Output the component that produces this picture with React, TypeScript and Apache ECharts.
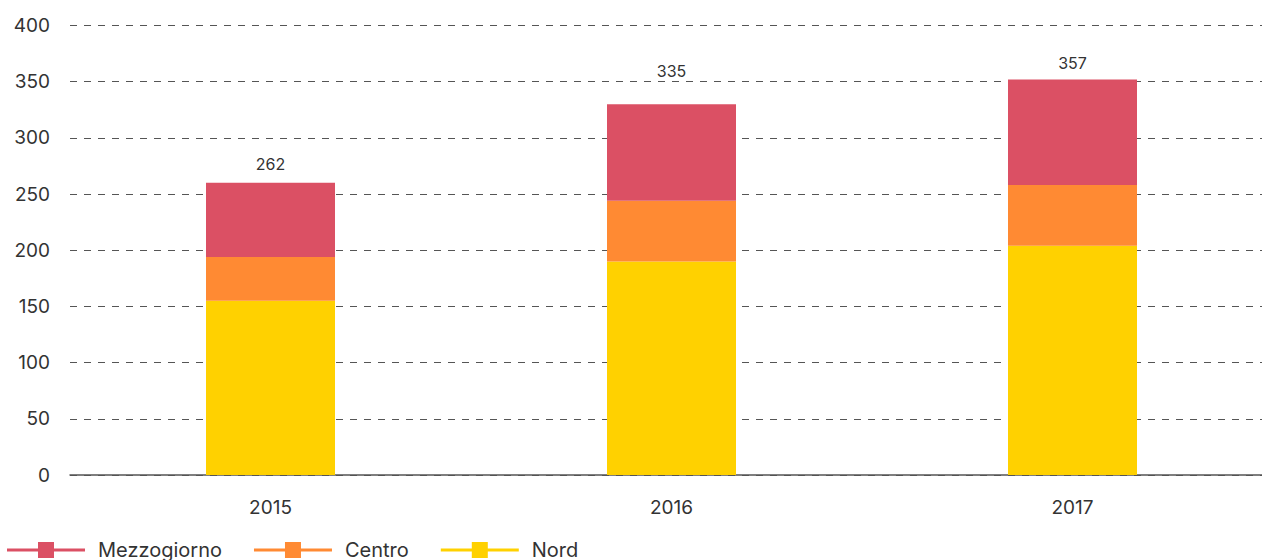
import React, { useEffect, useRef } from "react";
import * as echarts from "echarts";

const years = ["2015", "2016", "2017"];
const nord = [155, 190, 204];
const centro = [39, 54, 54];
const mezzogiorno = [66, 86, 94];
const totals = [262, 335, 357];
const labelGaps = [11, 25, 8];
const yTicks = { min: 0, max: 400, interval: 50 };

const FONT = "Inter, 'Noto Sans', sans-serif";
const TEXT = "#333333";

// line + square marker, with an empty margin on the right (phantom point at x=86)
function legendIcon() {
  return "path://M0,6.5 L31,6.5 L31,0 L47,0 L47,6.5 L78,6.5 L78,9.5 L47,9.5 L47,16 L31,16 L31,9.5 L0,9.5 Z M86,8 L86,8 Z";
}

export default function App() {
  const ref = useRef<HTMLDivElement>(null);
  useEffect(() => {
    if (!ref.current) return;
    const chart = echarts.init(ref.current, null, { renderer: "svg" });
    chart.setOption({
      animation: false,
      grid: { left: 70, right: 17, top: 25.5, bottom: 85, containLabel: false },
      legend: {
        data: ["Mezzogiorno", "Centro", "Nord"],
        left: 7,
        top: 540,
        padding: 0,
        itemWidth: 86,
        itemHeight: 16,
        itemGap: 32,
        icon: legendIcon(),
        textStyle: { fontFamily: FONT, fontSize: 20, color: TEXT },
      },
      xAxis: {
        type: "category",
        data: years,
        axisLine: { lineStyle: { color: "#555555", width: 1.5 } },
        axisTick: { show: false },
        axisLabel: { fontFamily: FONT, fontSize: 19, color: TEXT, margin: 23 },
      },
      yAxis: {
        type: "value",
        min: yTicks.min,
        max: yTicks.max,
        interval: yTicks.interval,
        axisLine: { show: false },
        axisTick: { show: false },
        axisLabel: { fontFamily: FONT, fontSize: 19, color: TEXT, margin: 20 },
        splitLine: { lineStyle: { color: "#555555", type: [7, 7], width: 1 } },
      },
      series: [
        {
          name: "Nord",
          type: "bar",
          stack: "tot",
          barWidth: 129,
          itemStyle: { color: "#FFD100" },
          data: nord,
        },
        {
          name: "Centro",
          type: "bar",
          stack: "tot",
          barWidth: 129,
          itemStyle: { color: "#FF8A33" },
          data: centro,
        },
        {
          name: "Mezzogiorno",
          type: "bar",
          stack: "tot",
          barWidth: 129,
          itemStyle: { color: "#DB5064" },
          data: mezzogiorno.map((v, i) => ({
            value: v,
            label: {
              show: true,
              position: "top",
              distance: labelGaps[i],
              formatter: String(totals[i]),
              fontFamily: FONT,
              fontSize: 16,
              color: TEXT,
            },
          })),
        },
      ],
    });
    return () => chart.dispose();
  }, []);
  return (
    <div style={{ position: "absolute", left: 0, top: 0, width: 1262, height: 560, overflow: "hidden", background: "#fff" }}>
      <div ref={ref} style={{ width: 1290, height: 560 }} />
    </div>
  );
}
